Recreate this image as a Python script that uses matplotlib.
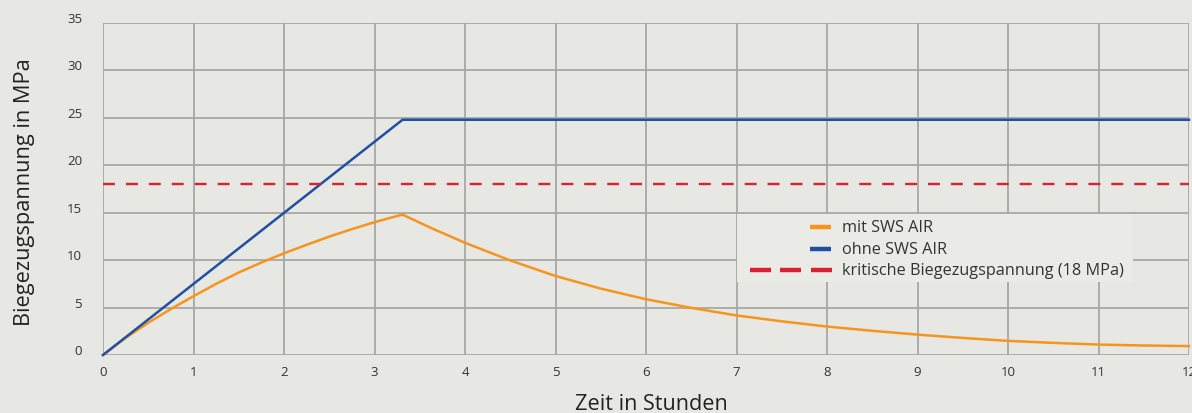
import matplotlib
matplotlib.use("Agg")
import matplotlib.pyplot as plt
import matplotlib.transforms as mtransforms
from matplotlib.lines import Line2D
from matplotlib.patches import Rectangle

plt.rcParams['font.family'] = ['Open Sans', 'DejaVu Sans']
plt.rcParams['lines.scale_dashes'] = False

# Data
x_ticks = list(range(0, 13))
y_ticks = [0, 5, 10, 15, 20, 25, 30, 35]

ohne_x = [0, 3.31, 12]
ohne_y = [0, 24.8, 24.8]

mit_x = [0, 0.25, 0.5, 0.75, 1, 1.25, 1.5, 1.75, 2, 2.25, 2.5, 2.75, 3, 3.15, 3.31,
         3.63, 4, 4.5, 5, 5.5, 6, 6.5, 7, 7.5, 8, 8.5, 9, 9.5, 10, 10.5, 11, 11.5, 12]
mit_y = [0, 1.8, 3.4, 4.85, 6.2, 7.5, 8.7, 9.75, 10.72, 11.62, 12.48, 13.27, 14.0, 14.4, 14.8,
         13.37, 11.83, 9.97, 8.33, 7.0, 5.88, 4.97, 4.17, 3.55, 3.0, 2.55, 2.15, 1.8, 1.49, 1.28, 1.1, 1.0, 0.94]

krit = 18

labels = ["mit SWS AIR", "ohne SWS AIR", "kritische Biegezugspannung (18 MPa)"]

BG = '#e7e8e3'
GRID = '#a7a7a5'
ORANGE = '#f7941d'
BLUE = '#2150a3'
RED = '#d7232f'

fig = plt.figure(figsize=(11.92, 4.14), dpi=100, facecolor=BG)
ax = fig.add_axes([103/1192, 58/414, (1189-103)/1192, (356-24)/414])
ax.set_facecolor(BG)
ax.set_xlim(0, 12)
ax.set_ylim(0, 35)
ax.set_xticks(x_ticks)
ax.set_yticks(y_ticks)
for s in ax.spines.values():
    s.set_visible(False)
ax.grid(True, color=GRID, linewidth=1.3, zorder=0)
ax.set_axisbelow(True)
ax.tick_params(length=0, labelsize=9.5, colors='#333333', pad=7)
ax.tick_params(axis='y', pad=15)
off = mtransforms.ScaledTranslation(0, 0.06, fig.dpi_scale_trans)
for lab in ax.get_yticklabels():
    lab.set_transform(lab.get_transform() + off)

ax.plot(mit_x, mit_y, color=ORANGE, linewidth=1.8, zorder=3, clip_on=False)
ax.plot(ohne_x, ohne_y, color=BLUE, linewidth=1.8, zorder=3, clip_on=False)
ax.axhline(krit, color=RED, linewidth=1.7, dashes=(8.6, 7.9), zorder=3)

fig.text(25/1192, 1 - 192/414, "Biegezugspannung in MPa", rotation=90, ha='center', va='center',
         fontsize=15.7, color='#222222')
fig.text(651/1192, 1 - 405/414, "Zeit in Stunden", ha='center', va='center', fontsize=15.6, color='#222222')

# manual legend (figure pixel coordinates)
def px(x, y):
    return (x/1192, 1 - y/414)

leg = Rectangle(px(737, 283), (1133-737)/1192, (283-215)/414, transform=fig.transFigure,
                facecolor='#eaebe7', edgecolor='none', zorder=4)
fig.add_artist(leg)
rows = [(228, ORANGE, False), (250, BLUE, False), (271, RED, True)]
for (yy, col, dashed), lab in zip(rows, labels):
    if dashed:
        x0 = 750
        for i in range(3):
            a = px(x0 + i*30.5, yy); b = px(x0 + i*30.5 + 20.5, yy)
            fig.add_artist(Line2D([a[0], b[0]], [a[1], b[1]], transform=fig.transFigure,
                                  color=col, linewidth=3.2, solid_capstyle='butt', zorder=5))
    else:
        a = px(810, yy); b = px(831, yy)
        fig.add_artist(Line2D([a[0], b[0]], [a[1], b[1]], transform=fig.transFigure,
                              color=col, linewidth=3.2, solid_capstyle='butt', zorder=5))
    t = px(842, yy)
    fig.text(t[0], t[1], lab, ha='left', va='center', fontsize=11.7, color='#333333', zorder=6)

fig.savefig("out.png", dpi=100, facecolor=BG)
